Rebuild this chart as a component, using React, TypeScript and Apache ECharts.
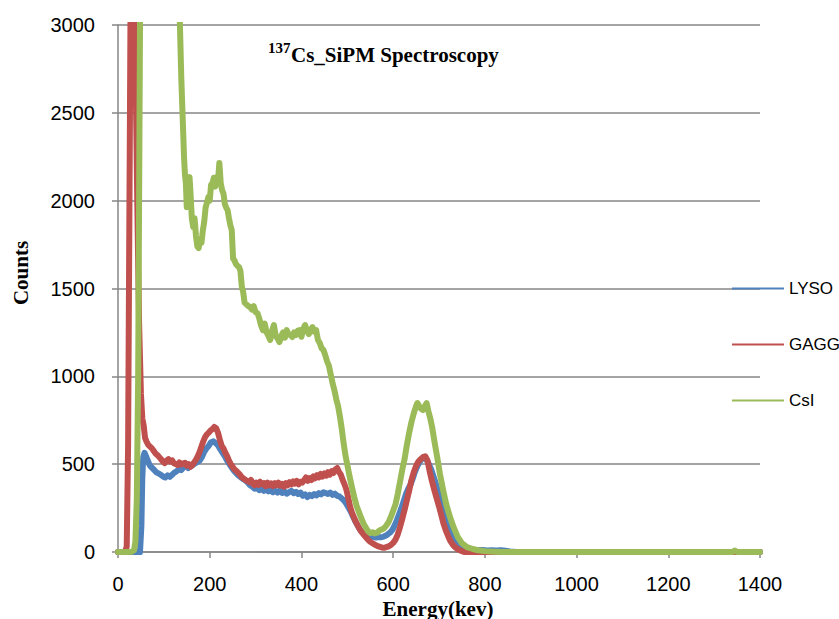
import React, { useEffect, useRef } from "react";
import * as echarts from "echarts";

const seriesNames = ["LYSO", "GAGG", "CsI"];
const seriesColors = ["#4F81BD", "#C0504D", "#9BBB59"];

const xTicks = { min: 0, max: 1400, interval: 200 };
const yTicks = { min: 0, max: 3000, interval: 500 };

const lysoData: number[][] = [
  [0,0],[20,0],[40,0],[48,0],[51,150],[53,420],[55,540],[58,565],[61,545],[65,520],[69,495],[73,482],[78,470],[83,455],[88,448],[93,440],[98,430],[103,424],[108,436],[113,428],[118,440],[123,452],[128,460],[133,470],[138,466],[143,482],[148,490],[153,478],[158,488],[163,495],[168,505],[173,512],[178,520],[183,540],[188,570],[193,590],[198,605],[203,625],[208,630],[213,620],[218,608],[223,585],[228,565],[233,545],[238,520],[243,500],[248,480],[253,462],[258,448],[263,435],[268,425],[273,415],[278,408],[283,395],[288,380],[293,372],[298,360],[303,365],[308,352],[313,360],[318,348],[323,355],[328,345],[333,352],[338,340],[343,348],[348,338],[353,350],[358,336],[363,345],[368,332],[373,340],[378,348],[383,335],[388,343],[393,330],[398,338],[403,320],[408,328],[413,313],[418,325],[423,318],[428,330],[433,322],[438,335],[443,328],[448,340],[453,335],[458,330],[463,338],[468,325],[473,332],[478,320],[483,316],[488,305],[493,292],[498,275],[503,252],[508,228],[513,200],[518,172],[523,150],[528,126],[533,112],[538,102],[543,96],[548,92],[553,88],[558,85],[563,82],[568,85],[573,84],[578,86],[583,92],[588,100],[593,110],[598,125],[603,150],[608,180],[613,215],[618,250],[623,290],[628,330],[633,360],[638,385],[643,420],[648,460],[653,490],[658,515],[663,530],[668,535],[673,525],[678,500],[683,470],[688,430],[693,390],[698,345],[703,300],[708,260],[713,220],[718,175],[723,135],[728,100],[733,70],[738,50],[743,35],[748,26],[755,20],[765,15],[775,12],[785,10],[795,12],[805,9],[815,10],[825,8],[835,10],[845,7],[855,3],[870,0],[1400,0]
];

const gaggData: number[][] = [
  [0,0],[15,0],[19,30],[22,600],[25,2000],[28,3400],[32,3600],[35,3400],[38,2800],[42,2000],[46,1300],[50,900],[53,760],[56,720],[59,650],[62,630],[66,610],[70,600],[74,590],[78,575],[82,560],[86,552],[90,540],[94,528],[98,515],[102,506],[106,520],[110,528],[114,515],[118,522],[122,505],[126,500],[130,495],[134,510],[138,498],[142,505],[146,508],[150,492],[154,500],[158,485],[162,495],[166,510],[170,525],[174,545],[178,570],[182,600],[186,630],[190,655],[194,670],[198,680],[202,692],[206,700],[210,712],[214,705],[218,680],[222,640],[226,605],[230,590],[234,565],[238,545],[242,520],[246,500],[250,485],[254,470],[258,462],[262,450],[266,440],[270,425],[274,418],[278,410],[282,405],[286,398],[290,410],[294,390],[298,380],[302,395],[306,382],[310,400],[314,385],[318,392],[322,375],[326,395],[330,380],[334,390],[338,375],[342,392],[346,380],[350,395],[354,378],[358,388],[362,372],[366,392],[370,380],[374,398],[378,385],[382,402],[386,390],[390,405],[394,385],[398,400],[402,395],[406,410],[410,425],[414,405],[418,420],[422,410],[426,430],[430,420],[434,438],[438,425],[442,445],[446,430],[450,448],[454,435],[458,455],[462,440],[466,460],[470,450],[474,470],[478,478],[482,455],[486,440],[490,410],[494,385],[498,355],[502,310],[506,260],[510,225],[514,200],[518,175],[522,155],[526,135],[530,118],[534,105],[538,92],[542,80],[546,68],[550,58],[555,50],[560,42],[565,35],[570,30],[575,26],[580,24],[585,28],[590,32],[595,40],[600,52],[605,70],[610,100],[615,142],[620,190],[625,240],[630,296],[635,350],[640,410],[645,455],[650,490],[655,515],[660,528],[665,540],[670,545],[675,520],[680,455],[685,400],[690,350],[695,305],[700,260],[705,210],[710,160],[715,122],[720,90],[725,62],[730,42],[735,28],[740,18],[745,10],[750,5],[755,0],[1400,0]
];

const csiData: number[][] = [
  [0,0],[20,0],[30,2],[35,10],[38,60],[41,300],[44,1000],[47,2500],[50,4000],[55,5500],[70,6000],[90,5800],[110,5000],[125,4200],[132,3500],[135,3000],[138,2700],[142,2400],[144,2250],[146,2150],[148,2100],[150,1963],[153,1990],[156,2134],[158,2050],[161,1900],[164,1850],[167,1900],[170,1800],[173,1740],[176,1730],[179,1780],[182,1760],[185,1830],[188,1880],[191,1960],[194,1990],[197,2020],[200,2000],[203,2090],[206,2100],[209,2130],[212,2080],[215,2134],[218,2110],[221,2214],[224,2100],[227,2060],[230,2040],[233,1980],[236,1960],[239,1946],[242,1900],[245,1860],[248,1833],[251,1670],[254,1660],[257,1640],[260,1630],[264,1622],[267,1600],[270,1510],[273,1480],[276,1420],[280,1410],[284,1400],[288,1395],[292,1380],[296,1400],[300,1365],[304,1360],[308,1330],[312,1290],[316,1263],[320,1300],[324,1250],[328,1230],[332,1207],[336,1260],[340,1292],[344,1230],[348,1215],[352,1195],[356,1230],[360,1250],[364,1220],[368,1263],[372,1240],[376,1235],[380,1224],[384,1250],[388,1235],[392,1260],[396,1263],[400,1225],[404,1270],[408,1292],[412,1260],[416,1240],[420,1263],[424,1280],[428,1255],[432,1263],[436,1207],[440,1190],[444,1160],[448,1150],[452,1120],[456,1085],[460,1060],[464,1010],[468,960],[472,920],[476,870],[480,830],[484,770],[488,700],[492,620],[496,550],[501,484],[505,430],[510,370],[515,315],[520,265],[525,230],[530,195],[535,165],[540,140],[545,120],[550,108],[555,112],[560,106],[565,110],[570,122],[575,128],[580,135],[585,150],[590,170],[595,200],[600,235],[605,270],[610,330],[615,400],[620,470],[625,530],[630,610],[635,680],[640,740],[645,790],[650,830],[653,848],[657,830],[661,815],[665,808],[669,830],[673,848],[677,800],[681,760],[685,711],[690,630],[696,541],[702,445],[709,353],[716,270],[724,199],[732,140],[741,85],[750,50],[761,28],[774,17],[785,10],[800,5],[820,2],[840,0],[1340,0],[1345,8],[1350,0],[1400,0]
];

const titleSup = "137";
const titleMain = "Cs_SiPM Spectroscopy";
const yName = "Counts";
const xName = "Energy(kev)";

export default function App() {
  const ref = useRef<HTMLDivElement>(null);
  useEffect(() => {
    if (!ref.current) return;
    const chart = echarts.init(ref.current, undefined, { renderer: "svg" });
    const gray = "#868686";
    const serif = '"Liberation Serif", "Times New Roman", serif';
    const sans = '"Liberation Sans", Arial, sans-serif';
    const allData = [lysoData, gaggData, csiData];
    const plain = (v: number) => String(v);
    chart.setOption({
      animation: false,
      backgroundColor: "#ffffff",
      grid: { left: 118, right: 79, top: 25, bottom: 67, containLabel: false },
      xAxis: {
        type: "value",
        min: xTicks.min,
        max: xTicks.max,
        interval: xTicks.interval,
        axisLine: { show: true, lineStyle: { color: gray, width: 1.5 } },
        axisTick: { show: true, length: 6, lineStyle: { color: gray, width: 1.5 } },
        axisLabel: { color: "#000", fontSize: 20, fontFamily: sans, margin: 22, formatter: plain },
        splitLine: { show: false },
      },
      yAxis: {
        type: "value",
        min: yTicks.min,
        max: yTicks.max,
        interval: yTicks.interval,
        axisLine: { show: true, lineStyle: { color: gray, width: 1.5 } },
        axisTick: { show: true, length: 6, lineStyle: { color: gray, width: 1.5 } },
        axisLabel: { color: "#000", fontSize: 20, fontFamily: sans, margin: 23, formatter: plain },
        splitLine: { show: true, lineStyle: { color: gray, width: 1.5 } },
      },
      legend: {
        orient: "vertical",
        left: 727,
        top: 275,
        itemWidth: 52,
        itemHeight: 2,
        itemGap: 39,
        icon: "rect",
        data: seriesNames,
        textStyle: { color: "#000", fontSize: 17, fontFamily: sans },
      },
      series: seriesNames.map((name, i) => ({
        name,
        type: "line",
        data: allData[i],
        showSymbol: false,
        symbol: "none",
        clip: true,
        color: seriesColors[i],
        lineStyle: { width: 6, color: seriesColors[i], cap: "round", join: "round" },
        itemStyle: { color: seriesColors[i] },
        z: 2 + i,
      })),
      graphic: [
        {
          type: "text",
          x: 268,
          y: 40,
          style: { text: titleSup, fontSize: 15, fontWeight: "bold", fontFamily: serif, fill: "#000", verticalAlign: "top", align: "left" },
        },
        {
          type: "text",
          x: 291,
          y: 44,
          style: { text: titleMain, fontSize: 21, fontWeight: "bold", fontFamily: serif, fill: "#000", verticalAlign: "top", align: "left" },
        },
        {
          type: "text",
          x: 21,
          y: 273,
          rotation: Math.PI / 2,
          style: { text: yName, fontSize: 21, fontWeight: "bold", fontFamily: serif, fill: "#000", verticalAlign: "middle", align: "center" },
        },
        {
          type: "text",
          x: 438,
          y: 598,
          style: { text: xName, fontSize: 21, fontWeight: "bold", fontFamily: serif, fill: "#000", verticalAlign: "top", align: "center" },
        },
      ],
    });
    return () => chart.dispose();
  }, []);
  return <div ref={ref} style={{ width: 839, height: 619, position: "absolute", left: 0, top: 0 }} />;
}
